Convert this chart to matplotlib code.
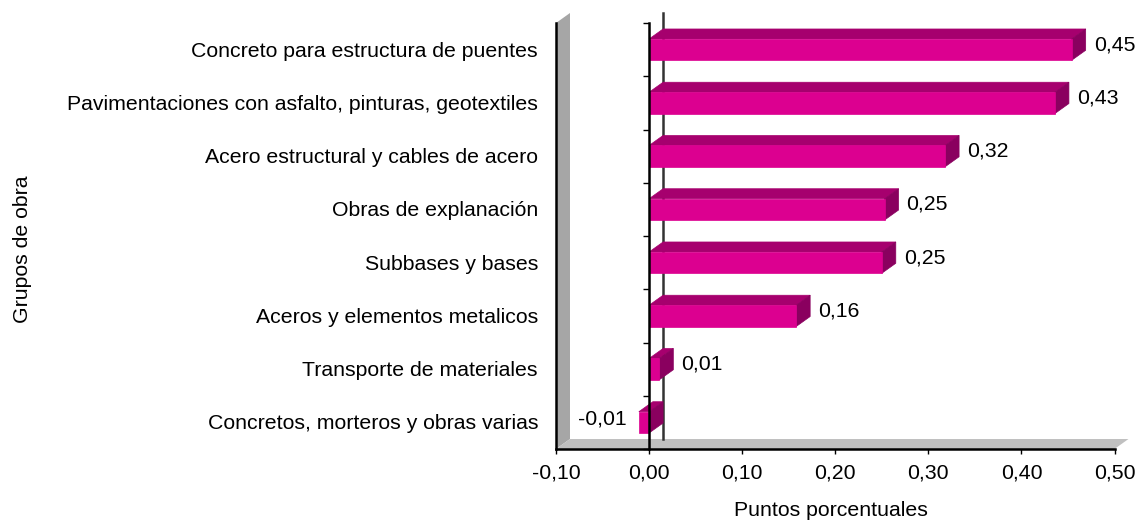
import matplotlib
matplotlib.use("Agg")
import matplotlib.pyplot as plt

plt.rcParams["font.family"] = ["Liberation Sans", "DejaVu Sans"]

grupos = ["Concreto para estructura de puentes",
          "Pavimentaciones con asfalto, pinturas, geotextiles",
          "Acero estructural y cables de acero",
          "Obras de explanación",
          "Subbases y bases",
          "Aceros y elementos metalicos",
          "Transporte de materiales",
          "Concretos, morteros y obras varias"]
valores = [0.454, 0.436, 0.318, 0.253, 0.250, 0.158, 0.011, -0.011]
etiquetas = ["0,45", "0,43", "0,32", "0,25", "0,25", "0,16", "0,01", "-0,01"]
xticks = [-0.10, 0.00, 0.10, 0.20, 0.30, 0.40, 0.50]
xticklabels = ["-0,10", "0,00", "0,10", "0,20", "0,30", "0,40", "0,50"]

W, H = 1139, 523
FS = 15.3
fig = plt.figure(figsize=(W / 100, H / 100), dpi=100)
ax = fig.add_axes([556 / W, 1 - 449 / H, 558.5 / W, 426 / H])
ax.set_xlim(-0.10, 0.50)
ax.set_ylim(len(grupos), 0)

# fake 3D depth, in data units (about 14 px right, 10 px up)
px_x = 0.6 / 558.5
px_y = len(grupos) / 426
dx = 14 * px_x
dy = 10 * px_y
n = len(grupos)

# walls
ax.fill([-0.10, -0.10 + dx, -0.10 + dx, -0.10], [0, -dy, n - dy, n],
        color="#a6a6a6", lw=0, clip_on=False, zorder=1)
ax.fill([-0.10, -0.10 + dx, 0.50 + dx, 0.50], [n, n - dy, n - dy, n],
        color="#c0c0c0", lw=0, clip_on=False, zorder=1)
# back zero line
ax.plot([dx, dx], [-dy, n - dy], color="#333333", lw=1.8, clip_on=False, zorder=2)

# bars
alto = 0.4
for i, v in enumerate(valores):
    c = i + 0.5
    sup, inf = c - alto / 2, c + alto / 2
    fin = max(v, 0)
    # top and side first, front over them, edges hide the white seams
    ax.fill([0, v, v + dx, dx], [sup, sup, sup - dy, sup - dy],
            color="#a6006e", lw=0.5, clip_on=False, zorder=3)
    ax.fill([fin, fin + dx, fin + dx, fin], [sup, sup - dy, inf - dy, inf],
            color="#8a005f", lw=0.5, clip_on=False, zorder=3)
    ax.barh(c, v, height=alto, color="#dc0090", edgecolor="#dc0090", lw=0.5, zorder=3.1)
    if v >= 0:
        ax.text(v + 22 * px_x, c - 5 * px_y, etiquetas[i], fontsize=FS,
                ha="left", va="center", zorder=5)
    else:
        ax.text(v - 12 * px_x, c - 3 * px_y, etiquetas[i], fontsize=FS,
                ha="right", va="center", zorder=5)
    ax.text(-0.10 - 18 * px_x, c + 1.5 * px_y, grupos[i], fontsize=FS,
            ha="right", va="center")

# axes
for s in ["top", "right"]:
    ax.spines[s].set_visible(False)
ax.spines["left"].set_position(("data", 0))
ax.spines["left"].set_linewidth(1.8)
ax.spines["left"].set_zorder(4)
ax.spines["bottom"].set_linewidth(1.8)
ax.spines["bottom"].set_zorder(4)
ax.plot([-0.10, -0.10], [0, n], color="black", lw=1.8, clip_on=False, zorder=4)

ax.set_yticks(range(n + 1))
ax.set_yticklabels([])
ax.tick_params(axis="y", length=4.5, width=1.0, color="black")
ax.set_xticks(xticks)
ax.set_xticklabels(xticklabels, fontsize=FS)
ax.tick_params(axis="x", length=3.5, width=1.0, pad=7)

fig.text(831 / W, 1 - 511 / H, "Puntos porcentuales", fontsize=FS,
         ha="center", va="center")
fig.text(23 / W, 1 - 249 / H, "Grupos de obra", fontsize=FS,
         ha="center", va="center", rotation=90)

fig.savefig("out.png", dpi=100)
